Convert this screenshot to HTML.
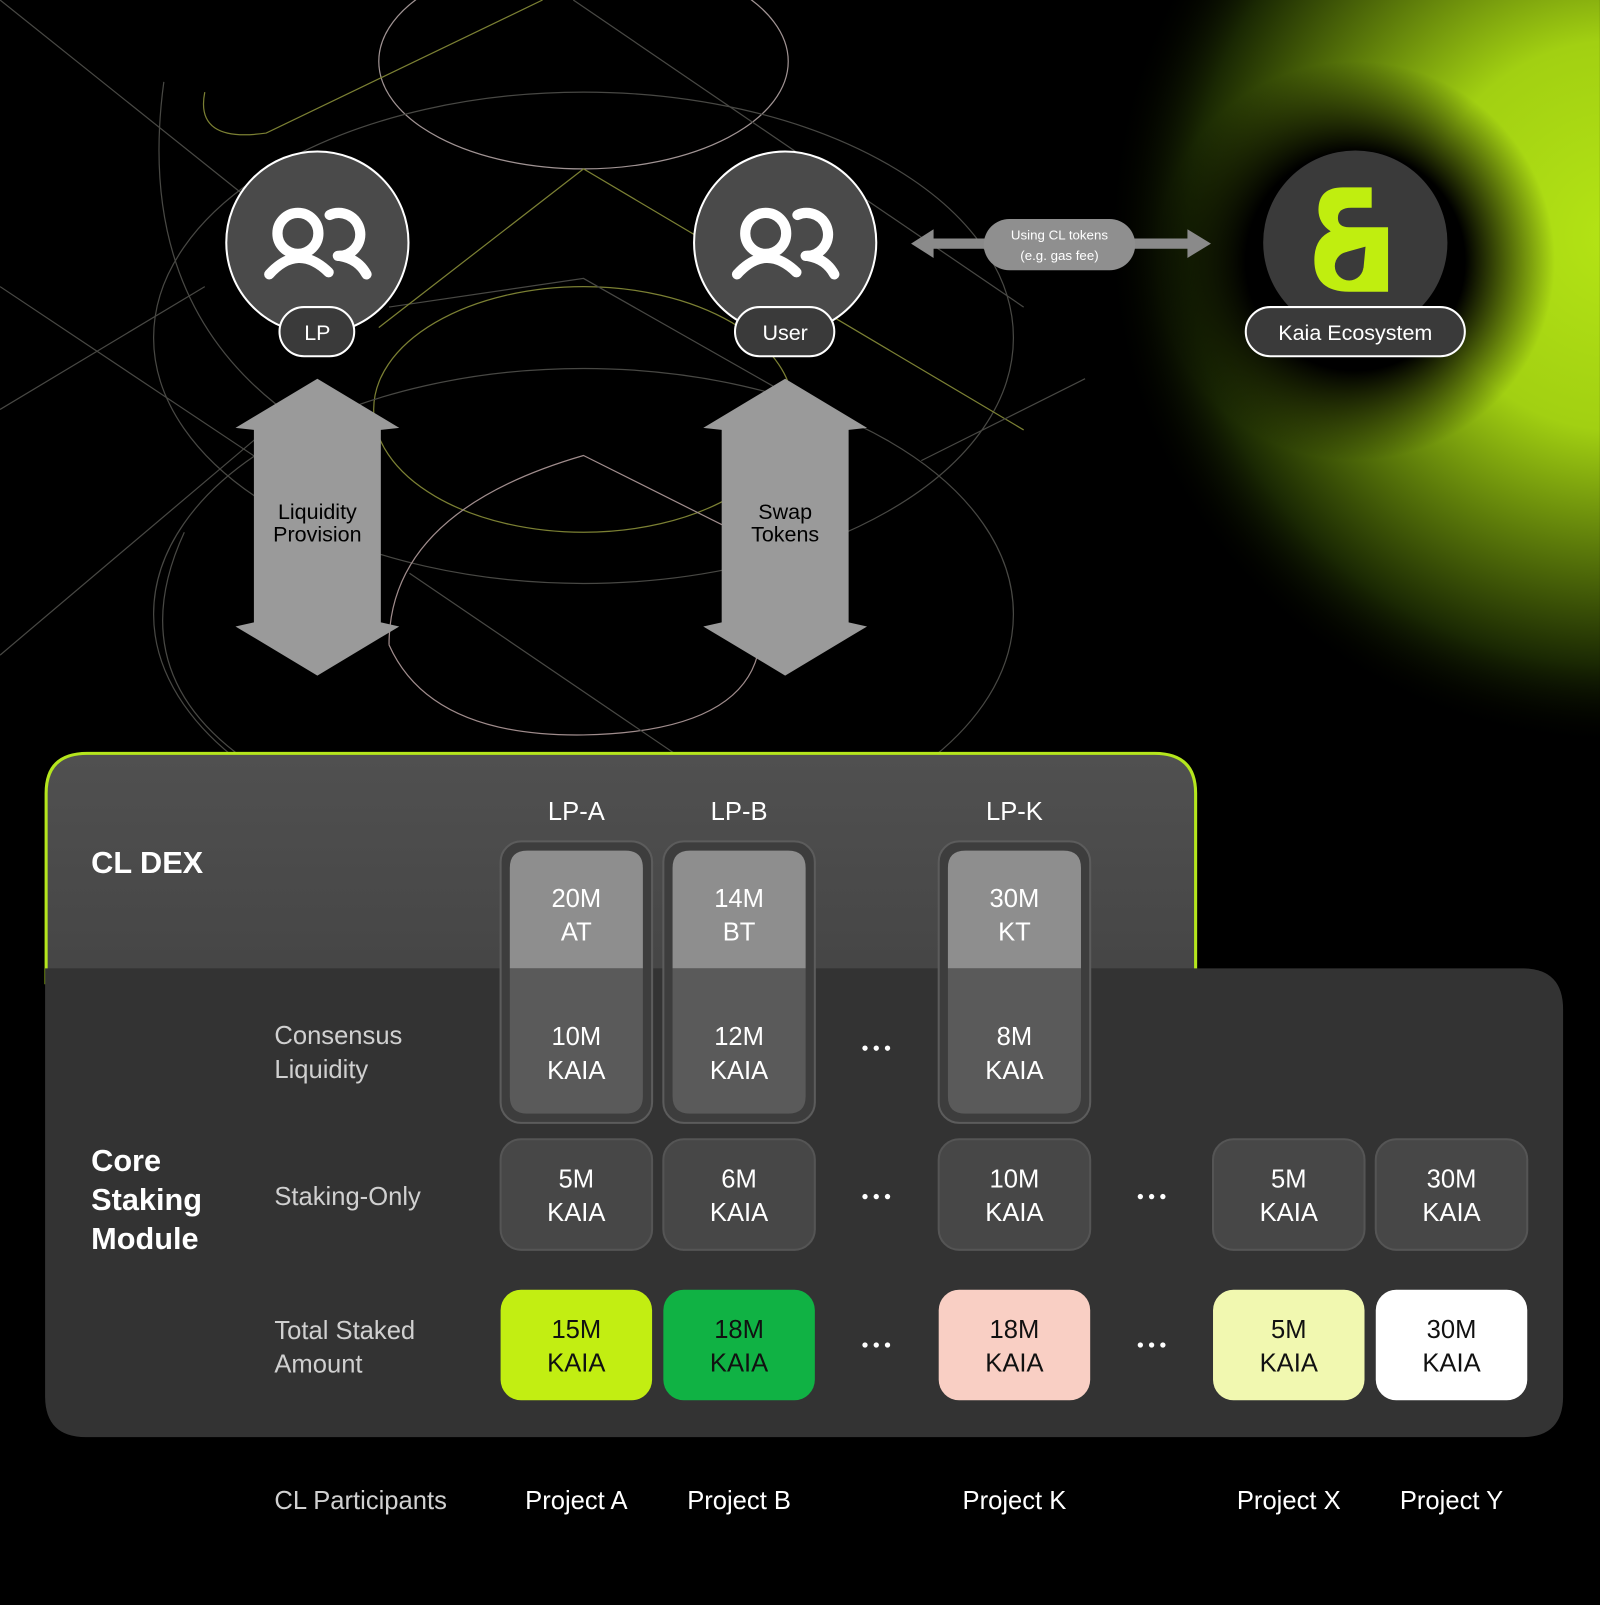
<!DOCTYPE html>
<html><head><meta charset="utf-8"><style>
html,body{margin:0;padding:0;background:#000;}
svg{display:block}
text{font-family:"Liberation Sans",sans-serif;}
</style></head><body>
<svg width="1600" height="1605" viewBox="0 0 1563 1568" xmlns="http://www.w3.org/2000/svg">
<defs>
<radialGradient id="glow" cx="1580" cy="230" r="500" gradientUnits="userSpaceOnUse">
<stop offset="0" stop-color="#b4e415"/>
<stop offset="0.38" stop-color="#a2d012"/>
<stop offset="0.62" stop-color="#5a780a"/>
<stop offset="0.84" stop-color="#1a2803"/>
<stop offset="1" stop-color="#000" stop-opacity="0"/>
</radialGradient>
<radialGradient id="halo" cx="1324" cy="255" r="195" gradientUnits="userSpaceOnUse">
<stop offset="0" stop-color="#000"/>
<stop offset="0.55" stop-color="#000"/>
<stop offset="1" stop-color="#000" stop-opacity="0"/>
</radialGradient>
<linearGradient id="dex" x1="0" y1="0" x2="0" y2="1">
<stop offset="0" stop-color="#505050"/><stop offset="1" stop-color="#454545"/>
</linearGradient>
</defs>
<rect width="1563" height="1568" fill="#000"/>
<rect x="850" y="0" width="713" height="760" fill="url(#glow)"/>
<circle cx="1324" cy="255" r="195" fill="url(#halo)"/>
<!-- decorative lines -->
<g fill="none" stroke="#5a5a55" stroke-width="1.2" opacity="0.8">
<ellipse cx="570" cy="60" rx="200" ry="105" stroke="#c8b8b8"/>
<ellipse cx="570" cy="330" rx="420" ry="240"/>
<ellipse cx="570" cy="400" rx="205" ry="120" stroke="#9aa040"/>
<ellipse cx="570" cy="600" rx="420" ry="240"/>
<path d="M380 630 Q380 500 570 445 L760 540" stroke="#c8b0b0"/>
<path d="M380 300 L570 272 L760 380"/>
<path d="M380 630 Q420 720 570 718 Q720 715 740 640" stroke="#c8b0b0"/>
<path d="M200 90 Q190 140 260 130 L530 0" stroke="#9aa040"/>
<path d="M370 320 L570 165 L1000 420" stroke="#9aa040"/>
<path d="M0 280 L360 520 M0 400 L200 280 M0 640 L260 420 M400 560 L900 900 M560 0 L1000 300 M900 450 L1060 370 M0 0 L300 240"/>
<path d="M160 80 Q130 300 290 410 M180 520 Q120 650 230 735"/>
</g>
<!-- horizontal arrow -->
<path d="M890 238 L912 224 L912 233 L1160 233 L1160 224 L1183 238 L1160 252 L1160 243 L912 243 L912 252 Z" fill="#8a8a8a"/>
<rect x="961" y="214" width="148" height="50" rx="25" fill="#8f8f8f"/>
<text x="1035" y="234" font-size="13" fill="#fff" text-anchor="middle">Using CL tokens</text>
<text x="1035" y="254" font-size="13" fill="#fff" text-anchor="middle">(e.g. gas fee)</text>
<!-- circles -->
<g stroke="#fff" stroke-width="2">
<circle cx="310" cy="237" r="89" fill="#4a4a4a"/>
<circle cx="767" cy="237" r="89" fill="#4a4a4a"/>
</g>
<circle cx="1324" cy="237" r="90" fill="#3a3a3a"/>
<!-- people icons -->
<g fill="none" stroke="#fff" stroke-width="10" stroke-linecap="round">
<g>
<circle cx="291" cy="228" r="20"/>
<path d="M322 210 A21 21 0 1 1 330 250"/>
<path d="M263 268 Q291 237 321 266"/>
<path d="M332 250 Q350 253 358 268"/>
</g>
<g transform="translate(457 0)">
<circle cx="291" cy="228" r="20"/>
<path d="M322 210 A21 21 0 1 1 330 250"/>
<path d="M263 268 Q291 237 321 266"/>
<path d="M332 250 Q350 253 358 268"/>
</g>
</g>
<!-- kaia logo -->
<path d="M1340 183 L1340 203 L1320 203 Q1307 203 1307 213 Q1307 222 1318 222 L1356 222 L1356 285 L1318 285 Q1284 285 1284 254 Q1284 233 1300 226 Q1288 218 1288 205 Q1288 183 1312 183 Z" fill="#c0ee0f"/>
<circle cx="1318" cy="260" r="14" fill="#3a3a3a"/>
<path d="M1334 241 L1332 262 L1316 246 Z" fill="#3a3a3a"/>
<!-- pills -->
<g stroke="#fff" stroke-width="2" fill="#3a3a3a">
<rect x="273" y="300" width="73" height="48" rx="24"/>
<rect x="718" y="300" width="97" height="48" rx="24"/>
<rect x="1217" y="300" width="214" height="48" rx="24"/>
</g>
<g fill="#fff" font-size="21" text-anchor="middle">
<text x="310" y="332">LP</text>
<text x="767" y="332">User</text>
<text x="1324" y="332">Kaia Ecosystem</text>
</g>
<!-- vertical arrows -->
<g fill="#9a9a9a">
<path d="M310 370 L390 418 L372 420 L372 608 L390 612 L310 660 L230 612 L248 608 L248 420 L230 418 Z"/>
<path d="M767 370 L847 418 L829 420 L829 608 L847 612 L767 660 L687 612 L705 608 L705 420 L687 418 Z"/>
</g>
<g fill="#000" font-size="21" text-anchor="middle">
<text x="310" y="507">Liquidity</text><text x="310" y="529">Provision</text>
<text x="767" y="507">Swap</text><text x="767" y="529">Tokens</text>
</g>
<!-- CL DEX panel -->
<path d="M45 960 L45 775 Q45 736 85 736 L1128 736 Q1168 736 1168 775 L1168 960 Z" fill="url(#dex)" stroke="#b5e61d" stroke-width="3"/>
<!-- core staking -->
<path d="M44 946 L1487 946 Q1527 946 1527 986 L1527 1364 Q1527 1404 1487 1404 L84 1404 Q44 1404 44 1364 Z" fill="#333"/>
<g fill="#fff" font-weight="bold" font-size="30">
<text x="89" y="853">CL DEX</text>
<text x="89" y="1144">Core</text><text x="89" y="1182">Staking</text><text x="89" y="1220">Module</text>
</g>
<g fill="#d0d0d0" font-size="25">
<text x="268" y="1020">Consensus</text><text x="268" y="1053">Liquidity</text>
<text x="268" y="1177">Staking-Only</text>
<text x="268" y="1308">Total Staked</text><text x="268" y="1341">Amount</text>
<text x="268" y="1474">CL Participants</text>
</g>
<g fill="#fff" font-size="25" text-anchor="middle">
<text x="563" y="801">LP-A</text><text x="722" y="801">LP-B</text><text x="991" y="801">LP-K</text>
<text x="563" y="1474">Project A</text><text x="722" y="1474">Project B</text><text x="991" y="1474">Project K</text>
<text x="1259" y="1474">Project X</text><text x="1418" y="1474">Project Y</text>
</g>
<!-- LP boxes -->
<g>
<rect x="489" y="822" width="148" height="275" rx="20" fill="#3d3d3d" stroke="#5c5c5c" stroke-width="2"/>
<rect x="648" y="822" width="148" height="275" rx="20" fill="#3d3d3d" stroke="#5c5c5c" stroke-width="2"/>
<rect x="917" y="822" width="148" height="275" rx="20" fill="#3d3d3d" stroke="#5c5c5c" stroke-width="2"/>
</g>
<g fill="#8e8e8e">
<path d="M498 946 L498 848 Q498 831 515 831 L611 831 Q628 831 628 848 L628 946 Z"/>
<path d="M657 946 L657 848 Q657 831 674 831 L770 831 Q787 831 787 848 L787 946 Z"/>
<path d="M926 946 L926 848 Q926 831 943 831 L1039 831 Q1056 831 1056 848 L1056 946 Z"/>
</g>
<g fill="#5a5a5a">
<path d="M498 946 L628 946 L628 1071 Q628 1088 611 1088 L515 1088 Q498 1088 498 1071 Z"/>
<path d="M657 946 L787 946 L787 1071 Q787 1088 770 1088 L674 1088 Q657 1088 657 1071 Z"/>
<path d="M926 946 L1056 946 L1056 1071 Q1056 1088 1039 1088 L943 1088 Q926 1088 926 1071 Z"/>
</g>
<!-- staking only -->
<g fill="#474747" stroke="#555" stroke-width="2">
<rect x="489" y="1113" width="148" height="108" rx="20"/>
<rect x="648" y="1113" width="148" height="108" rx="20"/>
<rect x="917" y="1113" width="148" height="108" rx="20"/>
<rect x="1185" y="1113" width="148" height="108" rx="20"/>
<rect x="1344" y="1113" width="148" height="108" rx="20"/>
</g>
<!-- totals -->
<rect x="489" y="1260" width="148" height="108" rx="20" fill="#c2ee12"/>
<rect x="648" y="1260" width="148" height="108" rx="20" fill="#10b244"/>
<rect x="917" y="1260" width="148" height="108" rx="20" fill="#f9cfc4"/>
<rect x="1185" y="1260" width="148" height="108" rx="20" fill="#f1f8b0"/>
<rect x="1344" y="1260" width="148" height="108" rx="20" fill="#ffffff"/>
<g fill="#fff" font-size="25" text-anchor="middle">
<text x="563" y="886">20M</text><text x="563" y="919">AT</text>
<text x="722" y="886">14M</text><text x="722" y="919">BT</text>
<text x="991" y="886">30M</text><text x="991" y="919">KT</text>
<text x="563" y="1021">10M</text><text x="563" y="1054">KAIA</text>
<text x="722" y="1021">12M</text><text x="722" y="1054">KAIA</text>
<text x="991" y="1021">8M</text><text x="991" y="1054">KAIA</text>
<text x="563" y="1160">5M</text><text x="563" y="1193">KAIA</text>
<text x="722" y="1160">6M</text><text x="722" y="1193">KAIA</text>
<text x="991" y="1160">10M</text><text x="991" y="1193">KAIA</text>
<text x="1259" y="1160">5M</text><text x="1259" y="1193">KAIA</text>
<text x="1418" y="1160">30M</text><text x="1418" y="1193">KAIA</text>
</g>
<g fill="#111" font-size="25" text-anchor="middle">
<text x="563" y="1307">15M</text><text x="563" y="1340">KAIA</text>
<text x="722" y="1307">18M</text><text x="722" y="1340">KAIA</text>
<text x="991" y="1307">18M</text><text x="991" y="1340">KAIA</text>
<text x="1259" y="1307">5M</text><text x="1259" y="1340">KAIA</text>
<text x="1418" y="1307">30M</text><text x="1418" y="1340">KAIA</text>
</g>
<g fill="#fff">
<circle cx="845" cy="1024" r="2.6"/><circle cx="856" cy="1024" r="2.6"/><circle cx="867" cy="1024" r="2.6"/>
<circle cx="845" cy="1169" r="2.6"/><circle cx="856" cy="1169" r="2.6"/><circle cx="867" cy="1169" r="2.6"/>
<circle cx="845" cy="1314" r="2.6"/><circle cx="856" cy="1314" r="2.6"/><circle cx="867" cy="1314" r="2.6"/>
<circle cx="1114" cy="1169" r="2.6"/><circle cx="1125" cy="1169" r="2.6"/><circle cx="1136" cy="1169" r="2.6"/>
<circle cx="1114" cy="1314" r="2.6"/><circle cx="1125" cy="1314" r="2.6"/><circle cx="1136" cy="1314" r="2.6"/>
</g>
</svg>
</body></html>
